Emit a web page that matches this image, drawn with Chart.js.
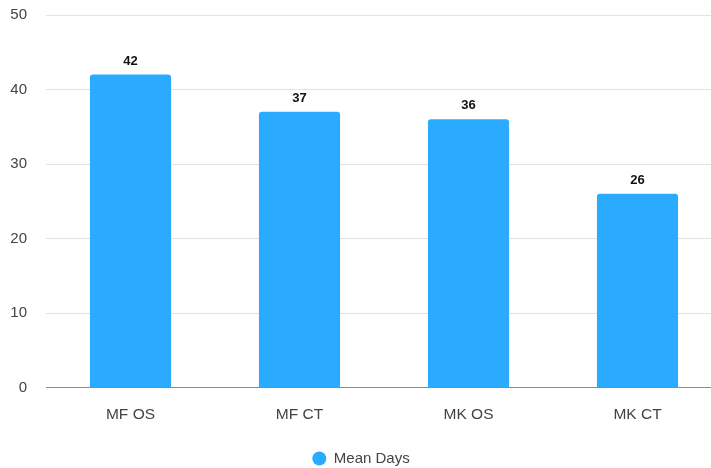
<!DOCTYPE html>
<html>
<head>
<meta charset="utf-8">
<script src="https://cdn.jsdelivr.net/npm/chart.js@4/dist/chart.umd.min.js"></script>
<style>
  html, body { margin: 0; padding: 0; background: #fff; overflow: hidden; }
  #wrap { position: relative; top: -13px; width: 722px; height: 489px; }
</style>
</head>
<body>
<div id="wrap"><canvas id="chart"></canvas></div>
<script>
const categories = ["MF OS", "MF CT", "MK OS", "MK CT"];
const meanDays = [42, 37, 36, 26];
const yTicks = [0, 10, 20, 30, 40, 50];

const BAR_BLUE = "#2BABFF";
const TEXT_GREY = "#444444";
const FONT = "'Liberation Sans', Arial, sans-serif";

// Writes each bar's value just above its top edge
const valueLabels = {
  id: "valueLabels",
  afterDatasetsDraw(chart) {
    const ctx = chart.ctx;
    const meta = chart.getDatasetMeta(0);
    ctx.save();
    ctx.font = "bold 13px " + FONT;
    ctx.fillStyle = "#111";
    ctx.textAlign = "center";
    ctx.textBaseline = "bottom";
    meta.data.forEach((bar, i) => {
      ctx.fillText(String(chart.data.datasets[0].data[i]), bar.x, bar.y - 7);
    });
    ctx.restore();
  }
};

new Chart(document.getElementById("chart"), {
  type: "bar",
  data: {
    labels: categories,
    datasets: [{
      label: "Mean Days",
      data: meanDays,
      backgroundColor: BAR_BLUE,
      borderRadius: { topLeft: 3, topRight: 3 },
      borderSkipped: "bottom",
      barPercentage: 0.6,
      categoryPercentage: 0.8
    }]
  },
  options: {
    responsive: true,
    maintainAspectRatio: false,
    animation: false,
    layout: { padding: { top: 0, right: 0, left: 0, bottom: 0 } },
    plugins: {
      legend: {
        position: "bottom",
        labels: {
          usePointStyle: true,
          pointStyle: "circle",
          pointStyleWidth: 14,
          boxWidth: 10,
          boxHeight: 10,
          padding: 2,
          color: TEXT_GREY,
          font: { family: FONT, size: 15 }
        }
      },
      tooltip: { enabled: false }
    },
    scales: {
      x: {
        grid: { display: false },
        border: { display: true, color: "#8a8a8a", width: 1 },
        afterFit(scale) { scale.height = 61.5; },
        ticks: {
          color: TEXT_GREY,
          padding: 10,
          font: { family: FONT, size: 15.5 }
        }
      },
      y: {
        min: 0,
        max: 50,
        afterBuildTicks(scale) {
          scale.ticks = yTicks.map(v => ({ value: v }));
        },
        afterFit(scale) { scale.width = 46; },
        border: { display: false },
        grid: {
          drawTicks: false,
          color: ctx => (ctx.tick && ctx.tick.value === 0) ? "#8a8a8a" : "#e3e3e3"
        },
        ticks: {
          color: TEXT_GREY,
          padding: 19,
          font: { family: FONT, size: 15 }
        }
      }
    }
  },
  plugins: [valueLabels]
});
</script>
</body>
</html>
